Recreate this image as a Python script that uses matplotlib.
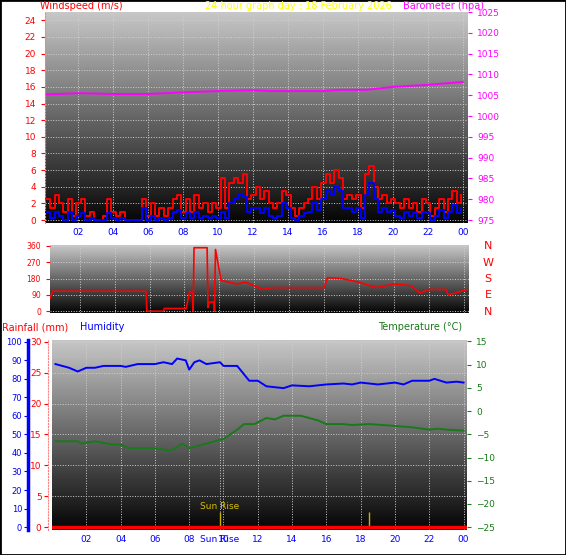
import numpy as np
import matplotlib.pyplot as plt

# ---- data ----
q_hours = np.arange(96) * 0.25 + 0.15
gust = [2.5, 1.5, 3.0, 2.0, 1.0, 2.5, 0.5, 2.0, 2.5, 0.5, 1.0, 0.0,
        0.0, 0.5, 2.5, 1.0, 0.5, 1.0, 0.0, 0.0, 0.0, 0.0, 2.5, 0.5,
        2.0, 0.5, 1.5, 0.5, 1.5, 2.5, 3.0, 1.0, 2.5, 1.0, 3.0, 1.5,
        2.0, 1.0, 2.0, 1.5, 5.0, 1.5, 4.5, 5.0, 4.5, 5.5, 2.5, 3.0,
        4.0, 2.5, 3.5, 2.0, 1.5, 2.0, 3.5, 3.0, 1.5, 0.5, 1.5, 2.0,
        2.5, 4.0, 2.5, 4.5, 5.5, 4.5, 6.0, 5.0, 2.5, 3.0, 2.5, 3.0,
        1.5, 5.5, 6.5, 4.0, 2.5, 3.0, 2.0, 2.5, 2.0, 1.5, 2.5, 1.5,
        2.0, 1.0, 2.5, 2.0, 0.5, 1.5, 2.5, 1.0, 2.5, 3.5, 2.0, 3.0]
avg = [1.0, 0.3, 1.0, 0.5, 0.0, 1.0, 0.0, 0.5, 0.8, 0.0, 0.3, 0.0,
       0.0, 0.0, 0.8, 0.2, 0.0, 0.3, 0.0, 0.0, 0.0, 0.0, 1.5, 0.0,
       0.5, 0.0, 0.3, 0.0, 0.3, 1.0, 1.2, 0.2, 0.8, 0.2, 1.0, 0.3,
       0.5, 0.2, 0.5, 0.3, 1.0, 0.3, 2.0, 2.5, 3.0, 2.8, 1.0, 1.5,
       1.5, 0.8, 1.5, 0.5, 0.3, 0.5, 2.0, 1.5, 0.3, 0.0, 0.5, 0.8,
       1.0, 2.0, 1.2, 2.5, 3.5, 3.0, 4.0, 3.5, 1.5, 1.5, 1.0, 1.5,
       0.3, 3.0, 4.5, 2.5, 1.0, 1.5, 1.0, 1.2, 0.5, 0.3, 1.0, 0.5,
       0.8, 0.2, 1.0, 0.8, 0.0, 0.5, 1.2, 0.3, 1.0, 1.8, 0.8, 1.5]

baro_hours = [0.2, 2, 4, 6, 8, 10, 12, 13, 16, 17, 18.5, 20, 22, 24]
baro = [1005.2, 1005.5, 1005.3, 1005.3, 1005.7, 1006.0, 1006.2, 1006.0,
        1006.0, 1006.3, 1006.3, 1007.0, 1007.5, 1008.2]

dir_hours = [0.3, 0.45, 5.8, 5.85, 6.8, 6.85, 8.1, 8.3, 8.45, 8.5, 8.55, 9.3,
             9.35, 9.4, 9.7, 9.72, 9.78, 10.1, 11.0, 11.5, 12.5, 13.0, 16.0,
             16.2, 17.0, 18.0, 19.0, 20.0, 21.0, 21.5, 22.0, 23.0, 23.1, 23.5, 24.2]
wdir = [70, 110, 110, 0, 0, 15, 15, 110, 100, 0, 350, 350,
        20, 50, 50, 0, 340, 170, 150, 160, 120, 130, 130,
        185, 180, 160, 130, 150, 140, 100, 120, 120, 90, 100, 120]

hum_hours = [0.2, 1, 1.5, 2, 2.5, 3, 4, 4.3, 5, 6, 6.5, 7, 7.3, 7.8, 8, 8.3, 8.6,
             9, 9.8, 10, 10.8, 11.5, 12, 12.5, 13.5, 14, 15, 16, 17, 17.5, 18,
             19, 20, 20.5, 21, 22, 22.3, 23, 23.6, 24]
humidity = [88, 86, 84, 86, 86, 87, 87, 86.5, 88, 88, 89, 88, 91, 90, 85, 89, 90,
            88, 89, 87, 87, 79, 79, 76, 75, 76.5, 76, 77, 77.5, 77, 78,
            77, 78, 77, 79, 79, 80, 78, 78.5, 78]

temp_hours = [0.2, 1.5, 1.7, 2.5, 3.5, 4, 4.5, 6, 7, 7.6, 8, 9, 10, 10.8, 11.2,
              11.8, 12.5, 13, 13.5, 14.5, 15.5, 16, 17, 17.5, 18.5, 20, 21, 22,
              22.5, 23, 24]
temp = [-6.5, -6.5, -7, -6.5, -7.2, -7.2, -8, -8, -8.5, -7, -8, -7, -6, -4, -2.8,
        -2.8, -1.5, -1.8, -1, -1, -2, -2.8, -2.8, -3, -2.8, -3.2, -3.5, -4,
        -3.8, -4, -4.2]

sun_events = [9.8, 18.5]
hour_ticks = [2, 4, 6, 8, 10, 12, 14, 16, 18, 20, 22, 24]
hour_labels = ["02", "04", "06", "08", "10", "12", "14", "16", "18", "20", "22", "00"]

W, H = 566, 555
fig = plt.figure(figsize=(W / 100, H / 100), dpi=100)
fig.patch.set_facecolor("white")
plt.rcParams["font.size"] = 6.5


def box(l, t, r, b):
    return fig.add_axes([l / W, 1 - b / H, (r - l) / W, (b - t) / H])


grad = np.linspace(0.78, 0.02, 200).reshape(-1, 1)


def shade(ax):
    ax.imshow(grad, cmap="gray", vmin=0, vmax=1, aspect="auto",
              extent=[0, 1, 0, 1], transform=ax.transAxes, zorder=0)
    ax.grid(True, color="#cfcfcf", linestyle=":", linewidth=0.7, zorder=1)
    for s in ax.spines.values():
        s.set_visible(False)


# ---- top panel: wind speed + barometer ----
ax1 = box(45, 12, 468, 223)
shade(ax1)
ax1.set_xlim(0.1, 24.3)
ax1.set_ylim(-0.36, 25)
ax1.step(q_hours, gust, where="post", color="red", lw=1.4, zorder=3)
ax1.step(q_hours, avg, where="post", color="blue", lw=1.4, zorder=4)
ax1.set_yticks(range(0, 25, 2))
ax1.set_xticks(hour_ticks)
ax1.set_xticklabels(hour_labels, color="blue")
ax1.tick_params(axis="y", colors="red", length=3)
ax1.tick_params(axis="x", length=0)
ax1.spines["left"].set_visible(True)
ax1.spines["left"].set_color("#ff8080")
ax1.spines["left"].set_linestyle(":")
ax1b = ax1.twinx()
ax1b.set_ylim(974.3, 1025)
ax1b.plot(baro_hours, baro, color="#ff00ff", lw=1.4, zorder=5)
ax1b.set_yticks(range(975, 1026, 5))
ax1b.tick_params(axis="y", colors="#ff00ff", length=3)
for s in ax1b.spines.values():
    s.set_visible(False)
fig.text(40 / W, 1 - 6 / H, "Windspeed (m/s)", color="red", fontsize=7, va="center")
fig.text(298 / W, 1 - 6 / H, "24 hour graph day : 18 February 2026", color="yellow",
         fontsize=7, va="center", ha="center")
fig.text(484 / W, 1 - 6 / H, "Barometer (hpa)", color="#ff00ff", fontsize=7,
         va="center", ha="right")

# ---- middle panel: wind direction ----
ax2 = box(50, 245, 469, 313)
shade(ax2)
ax2.set_xlim(0.3, 24.3)
ax2.set_ylim(-10, 365)
ax2.plot(dir_hours, wdir, color="red", lw=1.2, zorder=3)
ax2.set_yticks([0, 90, 180, 270, 360])
ax2.set_xticks(hour_ticks)
ax2.set_xticklabels([])
ax2.tick_params(axis="y", colors="red", length=3, labelsize=5.5)
ax2.tick_params(axis="x", length=0)
for i, d in enumerate(["N", "W", "S", "E", "N"]):
    fig.text(488 / W, 1 - (246 + i * 16.5) / H, d, color="red", fontsize=8,
             ha="center", va="center")

# ---- bottom panel: rainfall, humidity, temperature ----
ax3 = box(52, 340, 467, 530)
shade(ax3)
ax3.set_xlim(0.0, 24.2)
ax3.set_ylim(-0.48, 30.3)
ax3.axhline(0, color="red", lw=2.5, zorder=6)
ax3.vlines(sun_events, 0, 2.5, color="#c8b400", lw=1, zorder=5)
ax3.text(sun_events[0], 2.9, "Sun Rise", color="#d8c000", fontsize=6.5, ha="center", zorder=6)
ax3.set_yticks(range(0, 31, 5))
ax3.tick_params(axis="y", colors="red", length=3, pad=1.5)
ax3.spines["left"].set_visible(True)
ax3.spines["left"].set_color("#ff8080")
ax3.spines["left"].set_linestyle(":")
ax3.spines["left"].set_position(("outward", 3))
ax3.set_xticks(hour_ticks + [sun_events[0]])
ax3.set_xticklabels(hour_labels + ["Sun Rise"], color="blue")
ax3.tick_params(axis="x", length=0)

ax3h = ax3.twinx()
ax3h.set_ylim(-1.6, 101)
ax3h.plot(hum_hours, humidity, color="blue", lw=1.4, zorder=5)
ax3h.yaxis.set_ticks_position("left")
ax3h.yaxis.set_label_position("left")
ax3h.spines["left"].set_visible(True)
ax3h.spines["left"].set_position(("outward", 17))
ax3h.spines["left"].set_color("blue")
ax3h.spines["left"].set_linewidth(2.5)
for k in ["right", "top", "bottom"]:
    ax3h.spines[k].set_visible(False)
ax3h.set_yticks(range(0, 101, 10))
ax3h.tick_params(axis="y", colors="blue", length=3, pad=1.5, labelsize=6)

ax3t = ax3.twinx()
ax3t.set_ylim(-25.6, 15.3)
ax3t.plot(temp_hours, temp, color="#1a7a1a", lw=1.4, zorder=5)
ax3t.set_yticks(range(-25, 16, 5))
ax3t.tick_params(axis="y", colors="#1a7a1a", length=3)
for s in ax3t.spines.values():
    s.set_visible(False)
ax3h.set_zorder(ax3.get_zorder() + 1)
ax3t.set_zorder(ax3.get_zorder() + 2)

fig.text(2 / W, 1 - 327 / H, "Rainfall (mm)", color="red", fontsize=7, va="center")
fig.text(80 / W, 1 - 327 / H, "Humidity", color="blue", fontsize=7, va="center")
fig.text(378 / W, 1 - 327 / H, "Temperature (\u00b0C)", color="#1a7a1a", fontsize=7, va="center")

# outer border
fig.add_artist(plt.Rectangle((0, 0), 1, 1, transform=fig.transFigure,
                             fill=False, edgecolor="black", lw=2))

fig.savefig("out.png", dpi=100)
